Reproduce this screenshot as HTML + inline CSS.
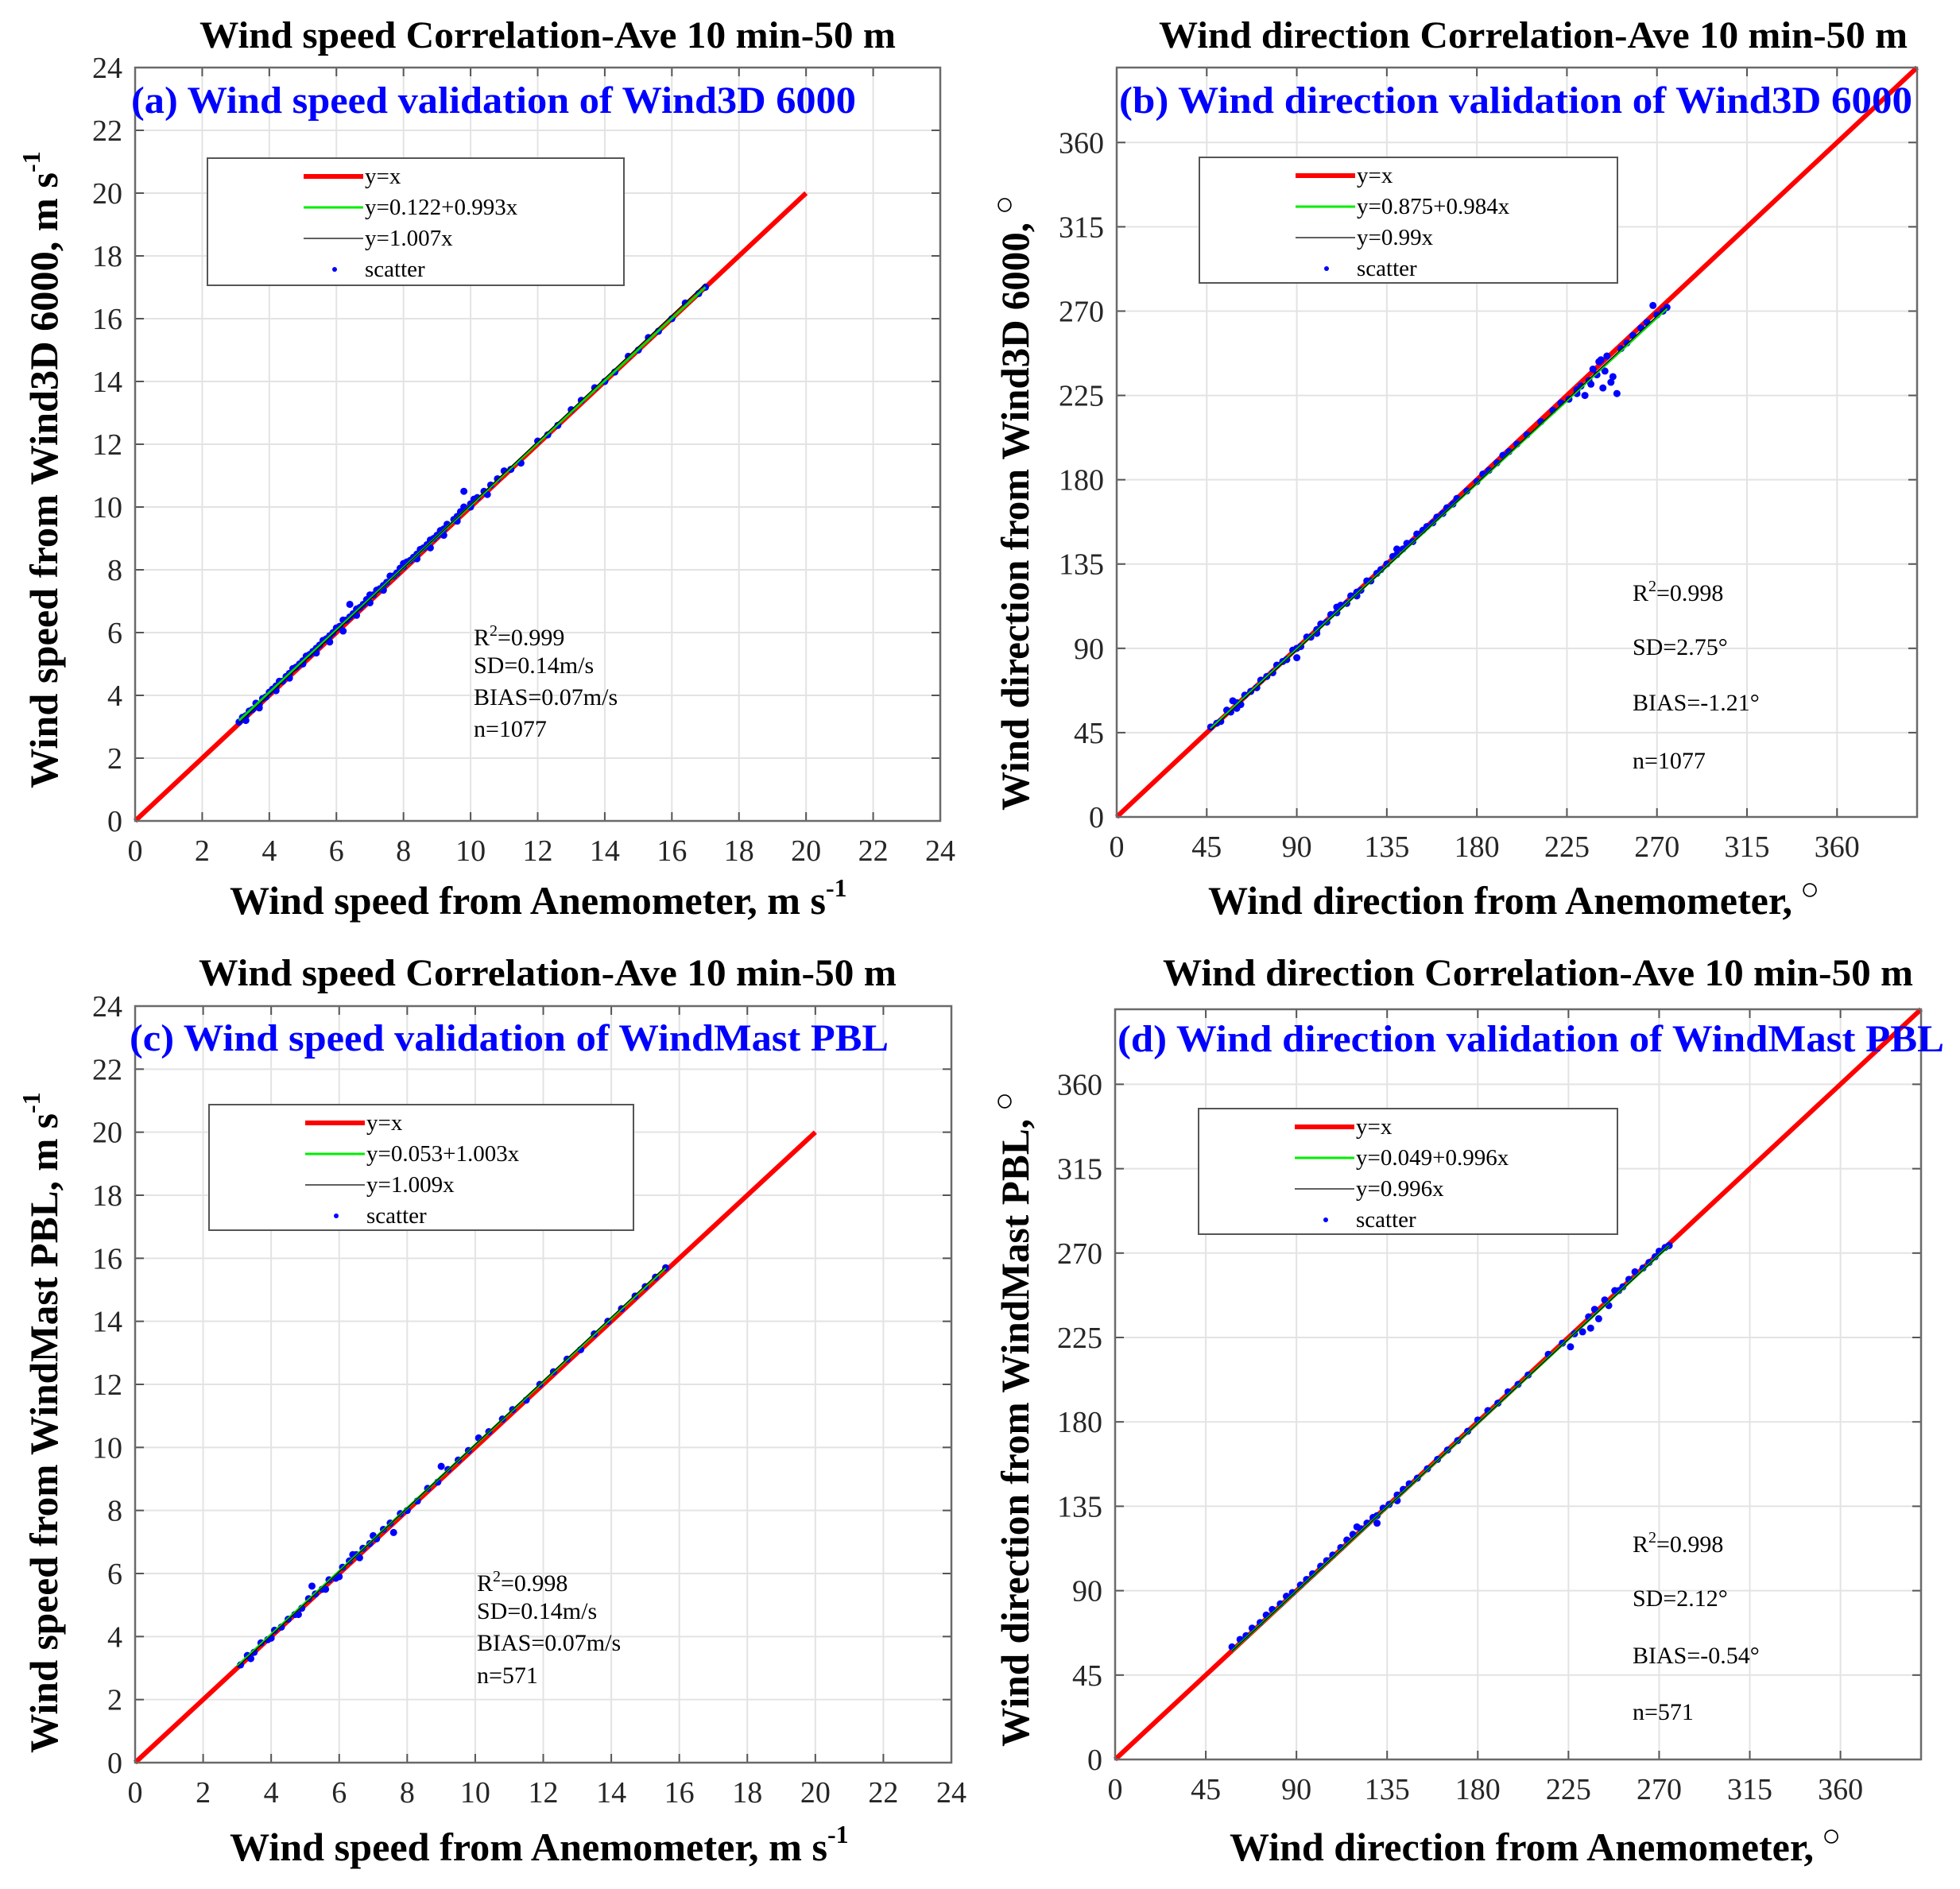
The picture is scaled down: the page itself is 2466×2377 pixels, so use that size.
<!DOCTYPE html>
<html><head><meta charset="utf-8">
<style>
html,body{margin:0;padding:0;background:#fff;}
svg{display:block;font-family:"Liberation Serif",serif;}
</style></head>
<body>
<svg id="fig" width="2466" height="2377" viewBox="0 0 2466 2377" xmlns="http://www.w3.org/2000/svg"></svg>
<script>
// ---- data ----
const aX=[3.1,3.2,3.3,3.4,3.5,3.6,3.7,3.8,3.9,4.0,4.1,4.2,4.3,4.4,4.5,4.6,4.7,4.8,4.9,5.0,5.1,5.2,5.3,5.4,5.5,5.6,5.7,5.8,5.9,6.0,6.1,6.2,6.3,6.4,6.5,6.6,6.7,6.8,6.9,7.0,7.1,7.2,7.3,7.4,7.5,7.6,7.7,7.8,7.9,8.0,8.1,8.2,8.3,8.4,8.5,8.6,8.7,8.8,8.9,9.0,9.1,9.2,9.3,9.5,9.6,9.7,9.8,10.0,10.1,10.2,10.4,10.6,10.8,11.0,11.2,11.5,12.0,12.3,12.6,13.0,13.3,13.7,14.0,14.3,14.7,15.0,15.3,15.6,16.0,16.4,16.8,17.0,3.3,3.7,4.2,4.6,5.0,5.4,5.8,6.2,6.6,7.0,7.4,8.0,8.4,8.8,9.2,9.6,10.0,9.8,10.5,6.4];
const aY=[3.15,3.3,3.35,3.5,3.55,3.75,3.7,3.9,3.95,4.1,4.2,4.3,4.45,4.45,4.6,4.7,4.85,4.9,5.0,5.1,5.25,5.3,5.4,5.5,5.6,5.75,5.8,5.9,6.0,6.15,6.2,6.4,6.4,6.5,6.6,6.75,6.8,6.9,7.05,7.2,7.2,7.35,7.4,7.5,7.6,7.8,7.8,7.9,8.05,8.1,8.25,8.3,8.4,8.5,8.65,8.7,8.8,8.95,9.0,9.1,9.25,9.3,9.45,9.6,9.7,9.85,10.0,10.1,10.25,10.3,10.5,10.7,10.9,11.15,11.2,11.4,12.1,12.3,12.6,13.1,13.4,13.8,14.0,14.3,14.8,15.0,15.4,15.6,16.0,16.5,16.8,17.0,3.2,3.6,4.15,4.55,5.0,5.35,5.7,6.05,6.55,6.95,7.35,8.2,8.35,8.7,9.1,9.55,10.0,10.5,10.4,6.9];
const bX=[47,50,52,55,57,60,62,64,67,70,72,75,78,80,83,85,88,90,92,95,97,100,102,105,107,110,112,115,117,120,122,125,127,130,132,135,138,140,143,145,148,150,153,155,158,160,163,165,168,170,175,180,183,186,190,193,196,200,205,212,218,222,226,230,232,234,236,238,240,241,243,245,247,248,250,252,255,258,262,265,268,270,273,275,242,237,244,230,100,110,90,120,140,60,58];
const bY=[48,50,51,57,56,61,60,65,67,69,73,75,77,81,83,84,89,90,91,96,96,100,103,104,108,109,113,114,118,120,121,126,126,130,132,135,139,140,143,146,147,151,153,155,157,160,162,165,167,170,174,179,183,185,189,193,195,199,204,211,217,221,223,228,230,225,233,239,236,243,229,246,232,235,226,250,253,257,261,264,273,268,270,272,244,231,238,226,98,112,85,118,143,58,62];
const cX=[3.1,3.3,3.5,3.7,3.9,4.1,4.3,4.5,4.7,4.9,5.1,5.3,5.5,5.7,5.9,6.1,6.3,6.5,6.7,6.9,7.1,7.3,7.5,7.8,8.0,8.3,8.6,8.9,9.2,9.5,9.8,10.1,10.4,10.8,11.1,11.5,11.9,12.3,12.7,13.1,13.5,13.9,14.3,14.7,15.0,15.3,15.6,4.0,4.8,5.6,6.0,6.4,7.0,5.2,9.0,3.4,6.6,7.6];
const cY=[3.1,3.4,3.5,3.8,3.9,4.2,4.3,4.55,4.7,4.9,5.2,5.35,5.5,5.8,5.85,6.2,6.4,6.6,6.8,6.95,7.1,7.4,7.6,7.9,8.0,8.3,8.7,8.9,9.3,9.6,9.9,10.3,10.5,10.9,11.2,11.5,12.0,12.4,12.8,13.1,13.6,14.0,14.4,14.8,15.1,15.4,15.7,3.95,4.7,5.5,5.9,6.6,7.2,5.6,9.4,3.3,6.5,7.3];
const dX=[58,62,65,68,72,75,78,82,85,88,92,95,98,102,105,108,112,115,118,122,125,128,130,133,136,140,143,146,150,155,160,165,170,175,180,185,190,195,200,205,215,222,228,232,235,238,240,243,245,248,252,255,258,262,265,268,270,273,275,226,236,120,130,140,250];
const dY=[60,64,66,70,73,77,80,83,87,89,93,96,99,103,106,109,113,117,120,123,126,129,130,134,136,141,144,147,150,155,160,165,170,175,181,186,190,196,200,205,216,222,227,228,236,240,235,245,242,250,252,256,260,262,265,268,271,273,274,220,230,124,126,138,250];
// fit lines: [intercept, slope, xStart, xEnd]
const aFit=[0.122,0.993,3.1,17.0]; const aRef=[0,1.007,3.1,17.0];
const bFit=[0.875,0.984,47,275];   const bRef=[0,0.99,47,275];
const cFit=[0.053,1.003,3.0,15.6]; const cRef=[0,1.009,3.0,15.6];
const dFit=[0.049,0.996,58,275];   const dRef=[0,0.996,58,275];
const speedTicks=[0,2,4,6,8,10,12,14,16,18,20,22,24];
const dirTicks=[0,45,90,135,180,225,270,315,360];

const NS="http://www.w3.org/2000/svg";
const svg=document.getElementById('fig');
function mk(tag,attrs,parent){const e=document.createElementNS(NS,tag);for(const k in attrs)e.setAttribute(k,attrs[k]);(parent||svg).appendChild(e);return e;}

function panel(p){
  const g=mk('g',{});
  
  
  const sx=v=>p.L+(v/p.max)*(p.R-p.L);
  const sy=v=>p.B-(v/p.max)*(p.B-p.T);
  p.ticks.forEach(t=>{
    const gx=mk('line',{x1:sx(t),x2:sx(t),y1:p.T,y2:p.B,stroke:'#e3e3e3','stroke-width':2},g);
    
    
    const gy=mk('line',{x1:p.L,x2:p.R,y1:sy(t),y2:sy(t),stroke:'#e3e3e3','stroke-width':2},g);
    
    
  });
  p.ticks.forEach(t=>{
    mk('line',{x1:sx(t),x2:sx(t),y1:p.B,y2:p.B-11,stroke:'#555','stroke-width':2},g);
    mk('line',{x1:sx(t),x2:sx(t),y1:p.T,y2:p.T+11,stroke:'#555','stroke-width':2},g);
    mk('line',{x1:p.L,x2:p.L+11,y1:sy(t),y2:sy(t),stroke:'#555','stroke-width':2},g);
    mk('line',{x1:p.R,x2:p.R-11,y1:sy(t),y2:sy(t),stroke:'#555','stroke-width':2},g);
    const xl=mk('text',{x:sx(t),y:p.B+50,'text-anchor':'middle','font-size':38,fill:'#262626'},g);
    xl.textContent=t;
    
    
    const yl=mk('text',{x:p.L-16,y:sy(t)+13,'text-anchor':'end','font-size':38,fill:'#262626'},g);
    yl.textContent=t;
    
    
  });
  const ref=mk('line',{x1:sx(0),y1:sy(0),x2:sx(p.redEnd),y2:sy(p.redEnd),stroke:'#ff0000','stroke-width':6},g);
  
  
  p.xs.forEach((x,i)=>{
    const c=mk('circle',{cx:sx(x),cy:sy(p.ys[i]),r:4.5,fill:'#0000ff'},g);
    
    
  });
  const f=p.fit, k=p.refFit;
  const fl=mk('line',{x1:sx(f[2]),y1:sy(f[0]+f[1]*f[2]),x2:sx(f[3]),y2:sy(f[0]+f[1]*f[3]),stroke:'#00dd00','stroke-width':3},g);
  
  
  const kl=mk('line',{x1:sx(k[2]),y1:sy(k[0]+k[1]*k[2]),x2:sx(k[3]),y2:sy(k[0]+k[1]*k[3]),stroke:'#000','stroke-width':1.2},g);
  
  
  const box=mk('rect',{x:p.L,y:p.T,width:p.R-p.L,height:p.B-p.T,fill:'none',stroke:'#6a6a6a','stroke-width':2.5},g);
  
  
  const lg=mk('g',{},g);
  
  
  const lx=p.leg[0], ly=p.leg[1];
  mk('rect',{x:lx,y:ly,width:p.leg[2],height:p.leg[3],fill:'#fff',stroke:'#555','stroke-width':2},lg);
  const rows=[23,62,101,140];
  mk('line',{x1:lx+121,x2:lx+196,y1:ly+rows[0],y2:ly+rows[0],stroke:'#ff0000','stroke-width':6},lg);
  mk('line',{x1:lx+121,x2:lx+196,y1:ly+rows[1],y2:ly+rows[1],stroke:'#00ee00','stroke-width':3},lg);
  mk('line',{x1:lx+121,x2:lx+196,y1:ly+rows[2],y2:ly+rows[2],stroke:'#000','stroke-width':1.2},lg);
  mk('circle',{cx:lx+160,cy:ly+rows[3],r:3,fill:'#0000ff'},lg);
  p.legText.forEach((s,i)=>{
    const t=mk('text',{x:lx+198,y:ly+rows[i]+9,'font-size':29,fill:'#000'},lg);
    t.textContent=s;
    
    
  });
  p.stats.forEach((s,i)=>{
    const t=mk('text',{x:p.statX,y:p.statY[i]-10,'font-size':30,fill:'#000'},g);
    
    
    if(i===0){t.appendChild(document.createTextNode('R'));const sp=mk('tspan',{dy:-12,'font-size':20},t);sp.textContent='2';const r=mk('tspan',{dy:12},t);r.textContent=s;}
    else t.textContent=s;
  });
  const tt=mk('text',{x:p.title[1],y:p.title[2],'font-size':48,'font-weight':'bold',textLength:p.title[3],lengthAdjust:'spacingAndGlyphs'},g);
  tt.textContent=p.title[0];
  
  
  const pl=mk('text',{x:p.lab[1],y:p.lab[2],'font-size':48,'font-weight':'bold',fill:'#0000ff',textLength:p.lab[3],lengthAdjust:'spacingAndGlyphs'},g);
  pl.textContent=p.lab[0];
  
  
  const xt=mk('text',{x:p.xt[1],y:p.xt[2],'font-size':50,'font-weight':'bold'},g);
  
  
  const xm=mk('tspan',{textLength:p.xt[3],lengthAdjust:'spacingAndGlyphs'},xt);xm.textContent=p.xt[0];
  if(p.sup){const s=mk('tspan',{dy:-22,'font-size':32},xt);s.textContent='-1';}
  else {const s=mk('tspan',{dy:-18,'font-size':40,'font-weight':'normal'},xt);s.textContent=' \u25CB';}
  const yt=mk('text',{x:0,y:0,'font-size':50,'font-weight':'bold',transform:`translate(${p.yt[1]},${p.yt[2]}) rotate(-90)`},g);
  
  
  const ym=mk('tspan',{textLength:p.yt[3],lengthAdjust:'spacingAndGlyphs'},yt);ym.textContent=p.yt[0];
  if(p.sup){const s=mk('tspan',{dy:-22,'font-size':32},yt);s.textContent='-1';}
  else {const s=mk('tspan',{dy:-18,'font-size':40,'font-weight':'normal'},yt);s.textContent=' \u25CB';}
}

panel({id:'a',L:170,R:1183,T:85,B:1033,max:24,ticks:speedTicks,redEnd:20,xs:aX,ys:aY,fit:aFit,refFit:aRef,
  leg:[261,199,524,160],legText:['y=x','y=0.122+0.993x','y=1.007x','scatter'],
  stats:['=0.999','SD=0.14m/s','BIAS=0.07m/s','n=1077'],statX:596,statY:[822,857,897,937],
  title:['Wind speed Correlation-Ave 10 min-50 m',251,60,876],lab:['(a) Wind speed validation of Wind3D 6000',165,142,912],
  xt:['Wind speed from Anemometer, m s',289,1150,750],yt:['Wind speed from Wind3D 6000, m s',72,992,775],sup:true});
panel({id:'b',L:1405,R:2412,T:85,B:1028,max:400,ticks:dirTicks,redEnd:400,xs:bX,ys:bY,fit:bFit,refFit:bRef,
  leg:[1509,198,526,158],legText:['y=x','y=0.875+0.984x','y=0.99x','scatter'],
  stats:['=0.998','SD=2.75\u00B0','BIAS=-1.21\u00B0','n=1077'],statX:2054,statY:[766,834,904,977],
  title:['Wind direction Correlation-Ave 10 min-50 m',1458,60,942],lab:['(b) Wind direction validation of Wind3D 6000',1408,142,998],
  xt:['Wind direction from Anemometer,',1520,1150,735],yt:['Wind direction from Wind3D 6000,',1294,1020,740],sup:false});
panel({id:'c',L:170,R:1197,T:1266,B:2218,max:24,ticks:speedTicks,redEnd:20,xs:cX,ys:cY,fit:cFit,refFit:cRef,
  leg:[263,1390,534,158],legText:['y=x','y=0.053+1.003x','y=1.009x','scatter'],
  stats:['=0.998','SD=0.14m/s','BIAS=0.07m/s','n=571'],statX:600,statY:[2012,2047,2087,2128],
  title:['Wind speed Correlation-Ave 10 min-50 m',250,1240,878],lab:['(c) Wind speed validation of WindMast PBL',163,1322,955],
  xt:['Wind speed from Anemometer, m s',289,2341,752],yt:['Wind speed from WindMast PBL, m s',72,2206,805],sup:true});
panel({id:'d',L:1403,R:2417,T:1270,B:2214,max:400,ticks:dirTicks,redEnd:400,xs:dX,ys:dY,fit:dFit,refFit:dRef,
  leg:[1508,1395,527,158],legText:['y=x','y=0.049+0.996x','y=0.996x','scatter'],
  stats:['=0.998','SD=2.12\u00B0','BIAS=-0.54\u00B0','n=571'],statX:2054,statY:[1963,2031,2103,2174],
  title:['Wind direction Correlation-Ave 10 min-50 m',1463,1240,944],lab:['(d) Wind direction validation of WindMast PBL',1406,1323,1040],
  xt:['Wind direction from Anemometer,',1547,2341,735],yt:['Wind direction from WindMast PBL,',1294,2198,790],sup:false});
</script>
</body></html>
